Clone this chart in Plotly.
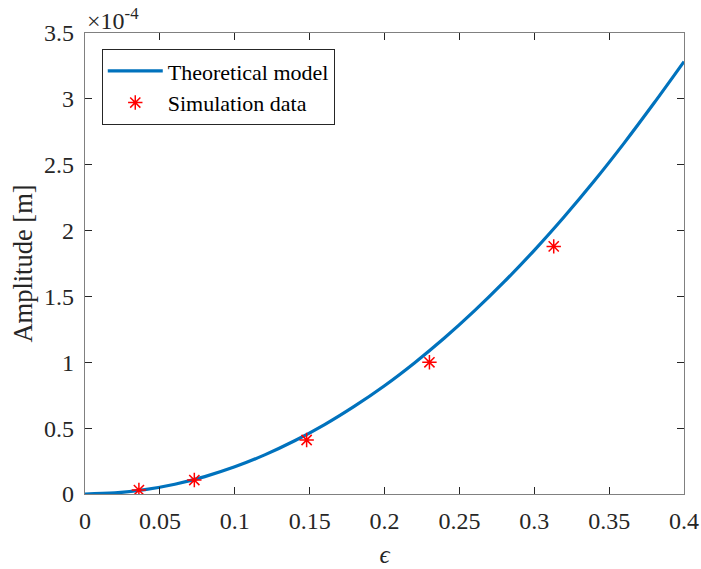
import plotly.graph_objects as go

# Theoretical amplitude curve (epsilon vs amplitude in metres)
eps_model = [0.00, 0.02, 0.04, 0.06, 0.08, 0.10, 0.12, 0.14, 0.16, 0.18, 0.20,
             0.22, 0.24, 0.26, 0.28, 0.30, 0.32, 0.34, 0.36, 0.38, 0.40]
amp_model = [0.0, 0.008e-4, 0.033e-4, 0.074e-4, 0.132e-4, 0.206e-4, 0.297e-4,
             0.404e-4, 0.527e-4, 0.667e-4, 0.822e-4, 0.995e-4, 1.184e-4,
             1.390e-4, 1.612e-4, 1.850e-4, 2.105e-4, 2.376e-4, 2.664e-4,
             2.968e-4, 3.283e-4]

# Simulation results
eps_sim = [0.036, 0.073, 0.148, 0.230, 0.313]
amp_sim = [0.03e-4, 0.106e-4, 0.41e-4, 1.00e-4, 1.88e-4]

x_ticks = [0, 0.05, 0.1, 0.15, 0.2, 0.25, 0.3, 0.35, 0.4]
x_tick_text = ["0", "0.05", "0.1", "0.15", "0.2", "0.25", "0.3", "0.35", "0.4"]
y_ticks = [0, 0.5e-4, 1e-4, 1.5e-4, 2e-4, 2.5e-4, 3e-4, 3.5e-4]
y_tick_text = ["0", "0.5", "1", "1.5", "2", "2.5", "3", "3.5"]

FONT = "'Liberation Serif', 'Times New Roman', serif"
TXT = "#262626"
AX = "#808080"

fig = go.Figure()
fig.add_trace(go.Scatter(
    x=eps_model, y=amp_model, mode="lines", name="Theoretical model",
    line=dict(color="#0072BD", width=3.2, shape="spline"),
))
fig.add_trace(go.Scatter(
    x=eps_sim, y=amp_sim, mode="markers", name="Simulation data",
    marker=dict(symbol="asterisk", size=12, color="#FF0000",
                line=dict(color="#FF0000", width=1.5)),
))

axis_common = dict(
    showline=True, linecolor=AX, linewidth=1.2, mirror="ticks",
    ticks="inside", ticklen=7, tickcolor=TXT, tickwidth=1,
    showgrid=False, zeroline=False, automargin=False,
    tickfont=dict(family=FONT, size=24, color=TXT),
)

fig.update_layout(
    width=701, height=569,
    margin=dict(l=85, r=17, t=33, b=75),
    plot_bgcolor="white", paper_bgcolor="white",
    showlegend=True,
    legend=dict(
        x=0.028, y=0.965, xanchor="left", yanchor="top",
        bgcolor="white", bordercolor=TXT, borderwidth=1,
        font=dict(family=FONT, size=22, color="black"),
        itemwidth=55, tracegroupgap=0,
    ),
    xaxis=dict(
        range=[0, 0.4], tickvals=x_ticks, ticktext=x_tick_text,
        ticklabelstandoff=5,
        title=dict(text="<i>ϵ</i>", font=dict(family=FONT, size=25, color=TXT),
                   standoff=12),
        **axis_common,
    ),
    yaxis=dict(
        range=[0, 3.5e-4], tickvals=y_ticks, ticktext=y_tick_text,
        ticklabelstandoff=5,
        title=dict(text="Amplitude [m]", font=dict(family=FONT, size=26.5, color=TXT),
                   standoff=3),
        **axis_common,
    ),
)

fig.add_annotation(
    xref="paper", yref="paper", x=0.0, y=1.0, xanchor="left", yanchor="bottom",
    text="×10<sup>-4</sup>", showarrow=False, xshift=0, yshift=-3,
    font=dict(family=FONT, size=24, color=TXT),
)

fig.write_html("out.html")
